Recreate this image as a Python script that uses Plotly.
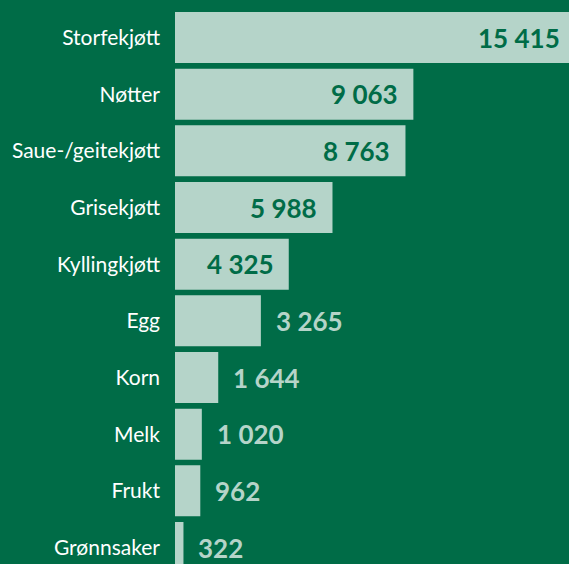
import plotly.graph_objects as go

categories = ["Storfekjøtt", "Nøtter", "Saue-/geitekjøtt", "Grisekjøtt", "Kyllingkjøtt",
              "Egg", "Korn", "Melk", "Frukt", "Grønnsaker"]
values = [15415, 9063, 8763, 5988, 4325, 3265, 1644, 1020, 962, 322]
inside = [True, True, True, True, True, False, False, False, False, False]

BG = "#006C47"
BAR = "#B5D4C9"

X_MAX = 14980

def fmt(v):
    return f"{v:,}".replace(",", " ")

fig = go.Figure()
fig.add_trace(go.Bar(
    y=categories, x=values, orientation="h",
    marker=dict(color=BAR, line=dict(width=0)),
    hoverinfo="skip",
))

annotations = []
for c, v, ins in zip(categories, values, inside):
    if ins:
        xa = min(v, X_MAX)
        shift = -7 if v > X_MAX else -13
        annotations.append(dict(x=xa, y=c, xref="x", yref="y", text=fmt(v), showarrow=False,
                                xanchor="right", xshift=shift,
                                font=dict(family="Lato", size=26, color=BG, weight="bold")))
    else:
        annotations.append(dict(x=v, y=c, xref="x", yref="y", text=fmt(v), showarrow=False,
                                xanchor="left", xshift=13,
                                font=dict(family="Lato", size=26, color=BAR, weight="bold")))

fig.update_layout(
    width=569, height=564,
    margin=dict(l=175, r=0, t=0, b=0, autoexpand=False),
    paper_bgcolor=BG, plot_bgcolor=BG,
    bargap=0.1,
    showlegend=False,
    annotations=annotations,
    xaxis=dict(range=[0, X_MAX], visible=False, showgrid=False, zeroline=False),
    yaxis=dict(range=[9.291, -0.662], showgrid=False, zeroline=False, showline=False,
               ticks="", ticklabelstandoff=14, automargin=False,
               tickfont=dict(family="Lato", size=21, color="#FFFFFF")),
)

fig.write_html("out.html", config={"displayModeBar": False},
               post_script="document.body.style.margin='0';document.body.style.overflow='hidden';")
